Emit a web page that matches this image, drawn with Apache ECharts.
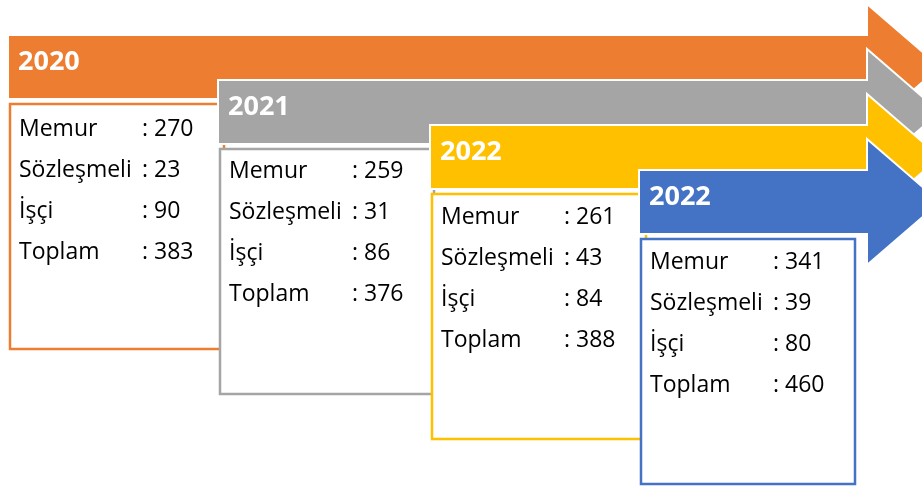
<!DOCTYPE html>
<html style="height: 100%">
<head>
	<meta charset="utf-8">
	<script type="text/javascript" src="https://cdn.jsdelivr.net/npm/echarts@6/dist/echarts.min.js"></script>
</head>
<body style="height: 100%; margin: 0; background: #fff">
	<div id="container" style="width: 922px; height: 486px"></div>
	<script type="text/javascript">
		// values
		var years = ['2020', '2021', '2022', '2022'];
		var rowLabels = ['Memur', 'Sözleşmeli', 'İşçi', 'Toplam'];
		var memur = [270, 259, 261, 341];
		var sozlesmeli = [23, 31, 43, 39];
		var isci = [90, 86, 84, 80];
		var toplam = [383, 376, 388, 460];

		var colors = ['#ED7D31', '#A5A5A5', '#FFC000', '#4472C4'];

		var dom = document.getElementById('container');
		var myChart = echarts.init(dom, null, { renderer: 'canvas' });

		var bodyLeft = [8, 218, 430, 639];
		var neckX = 867, tipX = 940, headHalf = 63, bodyH = 64;
		var boxW = 214, boxH = 245;
		var rowTop = [25, 22, 23, 23];
		var font = '23px "Open Sans"';

		var elements = [];
		years.forEach(function (year, i) {
			var top = 35 + i * 45;
			var mid = top + bodyH / 2;
			var x0 = bodyLeft[i];
			var z = i * 10;

			// arrow
			elements.push({
				type: 'polygon',
				z: z,
				shape: {
					points: [
						[x0, top], [neckX, top], [neckX, mid - headHalf], [tipX, mid],
						[neckX, mid + headHalf], [neckX, top + bodyH], [x0, top + bodyH]
					]
				},
				style: { fill: colors[i], stroke: '#fff', lineWidth: 2 }
			});
			elements.push({
				type: 'text',
				z: z + 1,
				style: {
					text: year, x: x0 + 10, y: top + 27,
					font: 'bold 27px "Open Sans"', fill: '#fff', verticalAlign: 'middle'
				}
			});

			// box
			var bx = x0 + 2, by = top + 69;
			elements.push({
				type: 'rect',
				z: z + 2,
				shape: { x: bx, y: by, width: boxW, height: boxH },
				style: { fill: '#fff', stroke: colors[i], lineWidth: 2.5 }
			});
			var vals = [memur[i], sozlesmeli[i], isci[i], toplam[i]];
			rowLabels.forEach(function (lab, r) {
				var ty = by + rowTop[i] + r * 41;
				elements.push({
					type: 'text', z: z + 3,
					style: { text: lab, x: bx + 9, y: ty, font: font, fill: '#000', verticalAlign: 'middle' }
				});
				elements.push({
					type: 'text', z: z + 3,
					style: { text: ': ' + vals[r], x: bx + 132, y: ty, font: font, fill: '#000', verticalAlign: 'middle' }
				});
			});
		});

		var option = {
			backgroundColor: '#fff',
			animation: false,
			graphic: { elements: elements }
		};
		myChart.setOption(option);
	</script>
</body>
</html>
